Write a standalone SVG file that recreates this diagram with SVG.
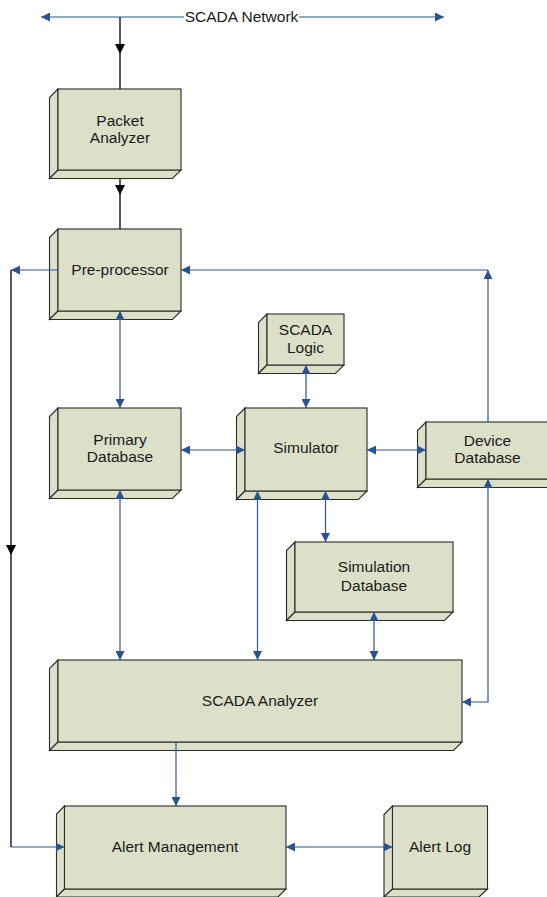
<svg xmlns="http://www.w3.org/2000/svg" width="547" height="897" viewBox="0 0 547 897">
<style>
.face{fill:#DDE0C9;stroke:#2a2a2a;stroke-width:1.1;stroke-linejoin:miter}
.lbl{font-family:"Liberation Sans",Arial,sans-serif;font-size:15.5px;fill:#1a1a1a;text-anchor:middle}
.bl{fill:none;stroke:#2E5590;stroke-width:1.2}
.bk{fill:none;stroke:#000;stroke-width:1.3}
</style>
<defs>
<marker id="ab" viewBox="0 0 10 10" refX="10" refY="5" markerWidth="9" markerHeight="9" markerUnits="userSpaceOnUse" orient="auto-start-reverse"><path d="M0,0 L10,5 L0,10 z" fill="#2A5190"/></marker>
<marker id="ak" viewBox="0 0 10 10" refX="10" refY="5" markerWidth="10" markerHeight="10" markerUnits="userSpaceOnUse" orient="auto"><path d="M0,0 L10,5 L0,10 z" fill="#000"/></marker>
</defs>
<rect width="547" height="897" fill="#fff"/>

<g id="network-label">
<text class="lbl" x="241.5" y="22">SCADA Network</text>
</g>

<g id="packet-analyzer">
<path class="face" d="M58,89 L49.5,97.5 L49.5,178.5 L58,170 Z"/>
<path class="face" d="M58,170 L49.5,178.5 L172.5,178.5 L181,170 Z"/>
<rect class="face" x="58" y="89" width="123" height="81"/>
<text class="lbl" x="120" y="126">Packet</text>
<text class="lbl" x="120" y="143">Analyzer</text>
</g>

<g id="pre-processor">
<path class="face" d="M58,229 L49.5,237.5 L49.5,319.5 L58,311 Z"/>
<path class="face" d="M58,311 L49.5,319.5 L172.5,319.5 L181,311 Z"/>
<rect class="face" x="58" y="229" width="123" height="82"/>
<text class="lbl" x="120" y="275">Pre-processor</text>
</g>

<g id="scada-logic">
<path class="face" d="M267,314 L258.5,322.5 L258.5,373.5 L267,365 Z"/>
<path class="face" d="M267,365 L258.5,373.5 L335.5,373.5 L344,365 Z"/>
<rect class="face" x="267" y="314" width="77" height="51"/>
<text class="lbl" x="305.5" y="335">SCADA</text>
<text class="lbl" x="305.5" y="353">Logic</text>
</g>

<g id="simulator">
<path class="face" d="M245,408 L236.5,416.5 L236.5,499.5 L245,491 Z"/>
<path class="face" d="M245,491 L236.5,499.5 L358.5,499.5 L367,491 Z"/>
<rect class="face" x="245" y="408" width="122" height="83"/>
<text class="lbl" x="306" y="453">Simulator</text>
</g>

<g id="device-database">
<path class="face" d="M426,422 L417.5,430.5 L417.5,487.5 L426,479 Z"/>
<path class="face" d="M426,479 L417.5,487.5 L551.5,487.5 L560,479 Z"/>
<rect class="face" x="426" y="422" width="134" height="57"/>
<text class="lbl" x="487.5" y="446">Device</text>
<text class="lbl" x="487.5" y="463">Database</text>
</g>

<g id="primary-database">
<path class="face" d="M58,408 L49.5,416.5 L49.5,498.5 L58,490 Z"/>
<path class="face" d="M58,490 L49.5,498.5 L172.5,498.5 L181,490 Z"/>
<rect class="face" x="58" y="408" width="123" height="82"/>
<text class="lbl" x="120" y="445">Primary</text>
<text class="lbl" x="120" y="462">Database</text>
</g>

<g id="simulation-database">
<path class="face" d="M295,542 L286.5,550.5 L286.5,620.5 L295,612 Z"/>
<path class="face" d="M295,612 L286.5,620.5 L444.5,620.5 L453,612 Z"/>
<rect class="face" x="295" y="542" width="158" height="70"/>
<text class="lbl" x="374" y="572">Simulation</text>
<text class="lbl" x="374" y="591">Database</text>
</g>

<g id="scada-analyzer">
<path class="face" d="M58,660 L49.5,668.5 L49.5,750.5 L58,742 Z"/>
<path class="face" d="M58,742 L49.5,750.5 L453.5,750.5 L462,742 Z"/>
<rect class="face" x="58" y="660" width="404" height="82"/>
<text class="lbl" x="260" y="706">SCADA Analyzer</text>
</g>

<g id="alert-management">
<path class="face" d="M64.5,806 L56.5,814 L56.5,897 L64.5,889 Z"/>
<path class="face" d="M64.5,889 L56.5,897 L278,897 L286,889 Z"/>
<rect class="face" x="64.5" y="806" width="221.5" height="83"/>
<text class="lbl" x="175" y="852">Alert Management</text>
</g>

<g id="alert-log">
<path class="face" d="M392.5,806 L384,814.5 L384,897 L392.5,889 Z"/>
<path class="face" d="M392.5,889 L384,897 L479,897 L487.5,889 Z"/>
<rect class="face" x="392.5" y="806" width="95" height="83"/>
<text class="lbl" x="440" y="852">Alert Log</text>
</g>

<g id="connectors">
<path class="bl" d="M184,17 L41,17" marker-end="url(#ab)"/>
<path class="bl" d="M299,17 L444,17" marker-end="url(#ab)"/>
<path class="bk" d="M120,17 L120,54 L120,89" marker-mid="url(#ak)"/>
<path class="bk" d="M120,179 L120,195 L120,229" marker-mid="url(#ak)"/>
<path class="bl" d="M488,422 L488,270" marker-end="url(#ab)"/>
<path class="bl" d="M488,270 L181,270" marker-end="url(#ab)"/>
<path class="bl" d="M58,270 L11,270" marker-end="url(#ab)"/>
<path class="bk" d="M11,270 L11,555 L11,847" marker-mid="url(#ak)"/>
<path class="bl" d="M11,847 L64.5,847" marker-end="url(#ab)"/>
<path class="bl" d="M120,311 L120,408" marker-start="url(#ab)" marker-end="url(#ab)"/>
<path class="bl" d="M306,365 L306,408" marker-start="url(#ab)" marker-end="url(#ab)"/>
<path class="bl" d="M181,450 L245,450" marker-start="url(#ab)" marker-end="url(#ab)"/>
<path class="bl" d="M367,450 L426,450" marker-start="url(#ab)" marker-end="url(#ab)"/>
<path class="bl" d="M120,490 L120,660" marker-start="url(#ab)" marker-end="url(#ab)"/>
<path class="bl" d="M257.5,491 L257.5,660" marker-start="url(#ab)" marker-end="url(#ab)"/>
<path class="bl" d="M325.5,491 L325.5,542" marker-start="url(#ab)" marker-end="url(#ab)"/>
<path class="bl" d="M374,612 L374,660" marker-start="url(#ab)" marker-end="url(#ab)"/>
<path class="bl" d="M488,479 L488,702 L462,702" marker-start="url(#ab)" marker-end="url(#ab)"/>
<path class="bl" d="M176,742 L176,806" marker-end="url(#ab)"/>
<path class="bl" d="M286,847 L392.5,847" marker-start="url(#ab)" marker-end="url(#ab)"/>
</g>
</svg>
